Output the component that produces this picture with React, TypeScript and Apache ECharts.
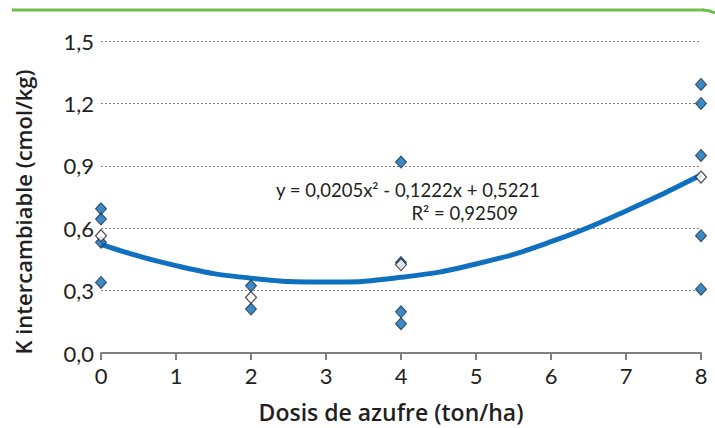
import React, { useEffect, useRef } from "react";
import * as echarts from "echarts";

const xTicks = [0, 1, 2, 3, 4, 5, 6, 7, 8];
const yTickLabels = ["0,0", "0,3", "0,6", "0,9", "1,2", "1,5"];

// observed values (blue diamonds)
const obsX = [0, 0, 0, 0, 2, 2, 4, 4, 4, 4, 8, 8, 8, 8, 8];
const obsY = [0.693, 0.644, 0.532, 0.339, 0.323, 0.211, 0.918, 0.435, 0.198, 0.141, 1.291, 1.2, 0.95, 0.564, 0.307];

// means (white diamonds)
const meanX = [0, 2, 4, 8];
const meanY = [0.564, 0.267, 0.425, 0.846];

// polynomial trend line
const trendX = [0, 1, 2, 3, 4, 5, 6, 7, 8];
const trendY = [0.522, 0.42, 0.36, 0.341, 0.364, 0.428, 0.535, 0.683, 0.856];

const eqLine1 = "y = 0,0205x² - 0,1222x + 0,5221";
const eqLine2 = "R² = 0,92509";
const xTitle = "Dosis de azufre (ton/ha)";
const yTitle = "K intercambiable (cmol/kg)";

const FONT = "Lato, 'Open Sans', sans-serif";
const TITLE_FONT = "'Open Sans', Lato, sans-serif";
const TEXT = "#231f20";

export default function App() {
  const ref = useRef<HTMLDivElement>(null);
  useEffect(() => {
    if (!ref.current) return;
    const chart = echarts.init(ref.current, null, { renderer: "svg" });
    const zip = (xs: number[], ys: number[]) => xs.map((x, i) => [x, ys[i]]);
    chart.setOption({
      animation: false,
      backgroundColor: "#ffffff",
      textStyle: { fontFamily: FONT },
      grid: { left: 101, right: 14, top: 41, bottom: 75, containLabel: false },
      xAxis: {
        type: "value",
        min: 0,
        max: 8,
        interval: 1,
        axisLine: { show: true, lineStyle: { color: "#7f7f7f", width: 2 } },
        axisTick: { show: true, inside: false, length: 7, lineStyle: { color: "#7f7f7f", width: 2 } },
        axisLabel: {
          margin: 11,
          fontSize: 22,
          color: TEXT,
          fontFamily: FONT,
          formatter: (v: number) => (xTicks.includes(v) ? String(v) : ""),
        },
        splitLine: { show: false },
      },
      yAxis: {
        type: "value",
        min: 0,
        max: 1.5,
        interval: 0.3,
        axisLine: { show: false },
        axisTick: { show: false },
        axisLabel: {
          margin: 7,
          fontSize: 22,
          color: TEXT,
          fontFamily: FONT,
          formatter: (v: number) => yTickLabels[Math.round(v / 0.3)] ?? "",
        },
        splitLine: { show: true, lineStyle: { color: "#808080", type: [2, 2], width: 1 } },
      },
      series: [
        {
          type: "line",
          data: zip(trendX, trendY),
          smooth: 0.5,
          symbol: "none",
          lineStyle: { color: "#0e70be", width: 5 },
          z: 2,
        },
        {
          type: "scatter",
          data: zip(obsX, obsY),
          symbol: "diamond",
          symbolSize: [11, 12],
          itemStyle: { color: "#0a6cb6", borderColor: "#1e2a3c", borderWidth: 1 },
          z: 3,
        },
        {
          type: "scatter",
          data: zip(meanX, meanY),
          symbol: "diamond",
          symbolSize: [11, 12],
          itemStyle: { color: "#ffffff", borderColor: "#231f20", borderWidth: 1.2 },
          z: 4,
        },
      ],
      graphic: [
        {
          type: "line",
          shape: { x1: 12, y1: 10, x2: 704, y2: 10 },
          style: { stroke: "#6cc04a", lineWidth: 3 },
        },
        {
          type: "bezierCurve",
          shape: { x1: 703, y1: 10, cpx1: 709, cpy1: 10, x2: 715, y2: 13 },
          style: { stroke: "#6cc04a", lineWidth: 3, fill: "none" },
        },
        {
          type: "text",
          x: 540,
          y: 190,
          style: { text: eqLine1, fontSize: 18.5, fill: TEXT, fontFamily: FONT, align: "right", verticalAlign: "middle" },
        },
        {
          type: "text",
          x: 518,
          y: 213,
          style: { text: eqLine2, fontSize: 18.5, fill: TEXT, fontFamily: FONT, align: "right", verticalAlign: "middle" },
        },
        {
          type: "text",
          x: 391,
          y: 412,
          style: { text: xTitle, fontSize: 23, fontWeight: 600, fill: TEXT, fontFamily: TITLE_FONT, align: "center", verticalAlign: "middle" },
        },
        {
          type: "text",
          x: 23,
          y: 212,
          rotation: Math.PI / 2,
          style: { text: yTitle, fontSize: 22, fontWeight: 600, fill: TEXT, fontFamily: TITLE_FONT, align: "center", verticalAlign: "middle" },
        },
      ],
    });
    return () => chart.dispose();
  }, []);
  return <div ref={ref} style={{ width: 715, height: 428, position: "absolute", left: 0, top: 0 }} />;
}
